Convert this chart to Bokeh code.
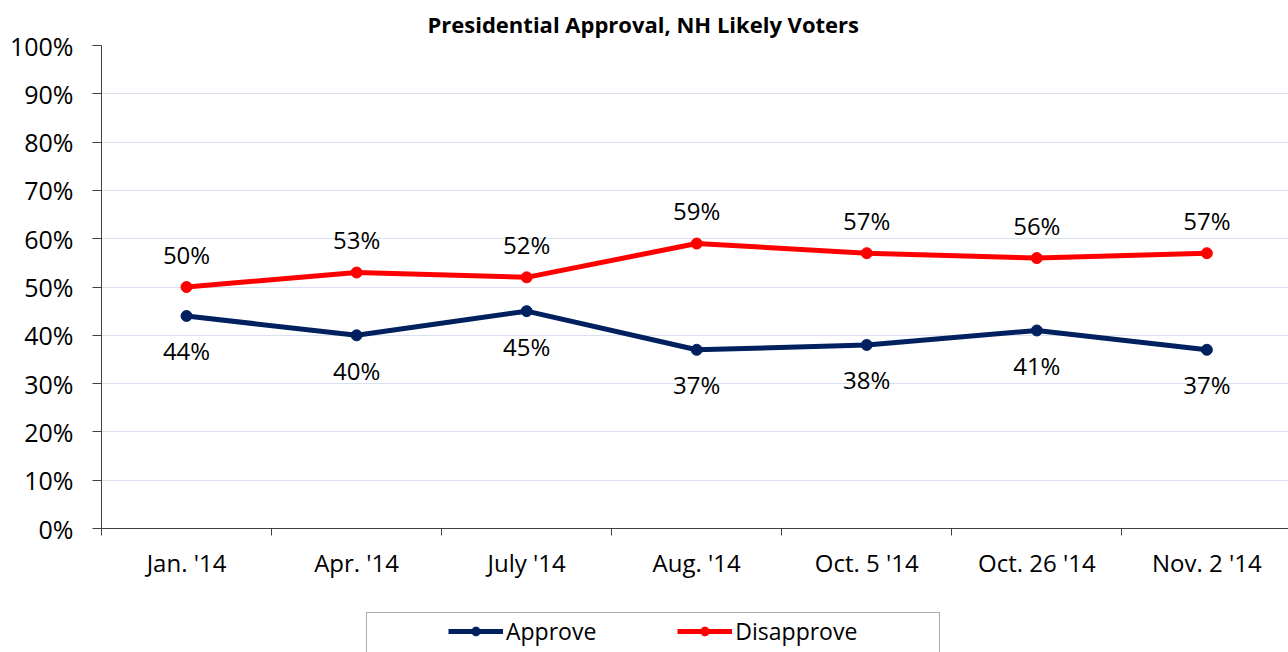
from bokeh.plotting import figure
from bokeh.layouts import column
from bokeh.models import (ColumnDataSource, FixedTicker, NumeralTickFormatter, Legend,
                          LegendItem, Range1d)
from bokeh.core.properties import value
from bokeh.embed import file_html
from bokeh.resources import INLINE

categories = ["Jan. '14", "Apr. '14", "July '14", "Aug. '14", "Oct. 5 '14", "Oct. 26 '14", "Nov. 2 '14"]
approve = [44, 40, 45, 37, 38, 41, 37]
disapprove = [50, 53, 52, 59, 57, 56, 57]
y_ticks = [0, 10, 20, 30, 40, 50, 60, 70, 80, 90, 100]
series_names = ["Approve", "Disapprove"]

FONT = "Open Sans"
NAVY = "#002060"
RED = "#ff0000"

xs = [i + 0.5 for i in range(len(categories))]
src = ColumnDataSource(dict(
    x=xs,
    approve=[v / 100 for v in approve],
    disapprove=[v / 100 for v in disapprove],
    a_lbl=[f"{v}%" for v in approve],
    d_lbl=[f"{v}%" for v in disapprove],
))

p = figure(width=1288, height=600, output_backend="svg", toolbar_location=None,
           x_range=Range1d(0, 6.98), y_range=Range1d(0, 1),
           min_border_left=101, min_border_right=0, min_border_top=43, min_border_bottom=72)
p.outline_line_color = None
p.background_fill_color = "white"
p.border_fill_color = "white"

p.title.text = "Presidential Approval, NH Likely Voters"
p.title.text_font = FONT
p.title.text_font_size = "22px"
p.title.text_font_style = "bold"
p.title.align = "left"
p.title.offset = 326
p.title.standoff = 13
p.title.text_color = "black"

# y axis
p.yaxis.ticker = FixedTicker(ticks=[t / 100 for t in y_ticks])
p.yaxis.formatter = NumeralTickFormatter(format="0%")
p.yaxis.major_tick_out = 9
p.yaxis.major_tick_in = 0
p.yaxis.minor_tick_line_color = None
p.yaxis.major_label_text_font = FONT
p.yaxis.major_label_text_font_size = "25px"
p.yaxis.major_label_text_color = "black"
p.yaxis.major_label_standoff = 19
p.yaxis.axis_line_color = "#404040"
p.yaxis.major_tick_line_color = "#404040"

# x axis: labels at category centres, ticks at category boundaries
p.xaxis.ticker = FixedTicker(ticks=xs, minor_ticks=list(range(len(categories) + 1)))
p.xaxis.major_label_overrides = {x: c for x, c in zip(xs, categories)}
p.xaxis.major_tick_out = 0
p.xaxis.major_tick_in = 0
p.xaxis.minor_tick_out = 7
p.xaxis.minor_tick_in = 0
p.xaxis.minor_tick_line_color = "#404040"
p.xaxis.axis_line_color = "#404040"
p.xaxis.major_label_text_font = FONT
p.xaxis.major_label_text_font_size = "24px"
p.xaxis.major_label_text_color = "black"
p.xaxis.major_label_standoff = 10

p.xgrid.grid_line_color = None
p.ygrid.grid_line_color = "#d9e1ee"
p.ygrid.grid_line_width = 1

p.line("x", "approve", source=src, line_color=NAVY, line_width=5)
p.scatter("x", "approve", source=src, size=11, fill_color=NAVY, line_color=NAVY)
p.line("x", "disapprove", source=src, line_color=RED, line_width=5)
p.scatter("x", "disapprove", source=src, size=11, fill_color=RED, line_color=RED)

p.text("x", "approve", text="a_lbl", source=src, text_font=value(FONT), text_font_size="24px",
       text_align="center", text_baseline="middle", y_offset=35, text_color="black")
p.text("x", "disapprove", text="d_lbl", source=src, text_font=value(FONT), text_font_size="24px",
       text_align="center", text_baseline="middle", y_offset=-33, text_color="black")

# legend strip below the chart (series drawn out of view, only their legend glyphs show)
lg = figure(width=1288, height=52, output_backend="svg", toolbar_location=None,
            x_range=Range1d(0, 7), y_range=Range1d(5, 6),
            x_axis_location=None, y_axis_location=None, min_border=0)
lg.outline_line_color = None
lg.xgrid.grid_line_color = None
lg.ygrid.grid_line_color = None
la = lg.line("x", "approve", source=src, line_color=NAVY, line_width=5)
sa = lg.scatter("x", "approve", source=src, size=12, fill_color=NAVY, line_color=NAVY)
ld = lg.line("x", "disapprove", source=src, line_color=RED, line_width=5)
sd = lg.scatter("x", "disapprove", source=src, size=12, fill_color=RED, line_color=RED)
frame_r = lg.line("x", "approve", source=src, line_alpha=0)

box = Legend(items=[LegendItem(label=" ", renderers=[frame_r])],
             location=(265, -6), orientation="horizontal", padding=0, margin=0, spacing=0,
             glyph_width=1, glyph_height=44, label_standoff=0, label_height=44, label_width=571,
             border_line_color="#595959", border_line_width=1, background_fill_alpha=0,
             label_text_alpha=0)
lg.add_layout(box, "center")

leg = Legend(items=[LegendItem(label=series_names[0], renderers=[la, sa]),
                    LegendItem(label=series_names[1], renderers=[ld, sd])],
             location=(347, 5), orientation="horizontal", padding=0, margin=0, spacing=81,
             glyph_width=55, glyph_height=22, label_standoff=3, label_height=22,
             border_line_alpha=0, background_fill_alpha=0,
             label_text_font=FONT, label_text_font_size="23px", label_text_color="black")
lg.add_layout(leg, "center")

layout = column(p, lg, spacing=0)
open("out.html", "w").write(file_html(layout, INLINE))
